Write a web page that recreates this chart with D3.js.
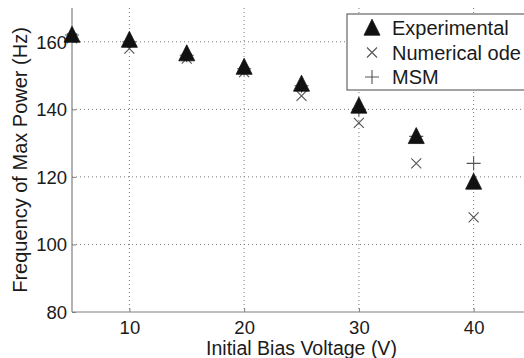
<!DOCTYPE html>
<html>
<head>
<meta charset="utf-8">
<script src="https://cdn.jsdelivr.net/npm/d3@7/dist/d3.min.js"></script>
<style>
  html, body { margin: 0; padding: 0; background: #fff; }
  svg { display: block; font-family: "Liberation Sans", Arial, Helvetica, sans-serif; }
</style>
</head>
<body>
<svg id="chart" width="524" height="358"></svg>
<script>
// Bias voltage sweep and the frequency at which power peaks
const voltage = [5, 10, 15, 20, 25, 30, 35, 40];
const experimental = [162, 160.5, 156.5, 152.5, 147.5, 141, 132, 118.5];
const numericalOde = [161, 158, 155, 151, 144, 136, 124, 108];
const msm = [162, 160, 156, 152, 147, 140, 132, 124];

const xTicks = [10, 20, 30, 40];
const yTicks = [80, 100, 120, 140, 160];
const legendLabels = ["Experimental", "Numerical ode", "MSM"];

const svg = d3.select("#chart");
const plotLeft = 72, plotRight = 531, plotTop = 8, plotBottom = 312;

const x = d3.scaleLinear().domain([5, 45]).range([plotLeft, plotRight]);
const y = d3.scaleLinear().domain([80, 170]).range([plotBottom, plotTop]);

const gridColor = "#7a7a7a";
const axisColor = "#808080";

// dotted grid
const grid = svg.append("g");
grid.selectAll("line.v").data(xTicks).join("line")
  .attr("x1", d => x(d)).attr("x2", d => x(d))
  .attr("y1", plotTop).attr("y2", plotBottom)
  .attr("stroke", gridColor).attr("stroke-width", 1)
  .attr("stroke-dasharray", "1,3");
grid.selectAll("line.h").data(yTicks.filter(d => d > 80)).join("line")
  .attr("x1", plotLeft).attr("x2", plotRight)
  .attr("y1", d => y(d)).attr("y2", d => y(d))
  .attr("stroke", gridColor).attr("stroke-width", 1)
  .attr("stroke-dasharray", "1,3");

// axes
const xAxis = svg.append("g").attr("transform", `translate(0,${plotBottom})`)
  .call(d3.axisBottom(x).tickValues(xTicks).tickSize(-4).tickPadding(9));
const yAxis = svg.append("g").attr("transform", `translate(${plotLeft},0)`)
  .call(d3.axisLeft(y).tickValues(yTicks).tickSize(-4).tickPadding(5));

[xAxis, yAxis].forEach(g => {
  g.select(".domain").attr("stroke", axisColor).attr("stroke-width", 1.2);
  g.selectAll(".tick line").attr("stroke", axisColor);
  g.selectAll(".tick text").attr("fill", "#1a1a1a")
    .style("font-size", "18.5px").style("font-family", "'Liberation Sans', Arial, sans-serif");
});
yAxis.select(".domain").attr("d", `M0,${plotTop}V${plotBottom}`);
xAxis.select(".domain").attr("d", `M${plotLeft},0H${plotRight}`);
xAxis.selectAll(".tick text").attr("dy", "0.71em");
yAxis.selectAll(".tick text").attr("dy", "0.35em");

// axis titles
svg.append("text")
  .attr("x", (plotLeft + plotRight) / 2).attr("y", 355)
  .attr("text-anchor", "middle").attr("fill", "#1a1a1a")
  .style("font-size", "19.5px").text("Initial Bias Voltage (V)");
svg.append("text")
  .attr("transform", `translate(27,${(plotTop + plotBottom) / 2}) rotate(-90)`)
  .attr("text-anchor", "middle").attr("fill", "#1a1a1a")
  .style("font-size", "20px").text("Frequency of Max Power (Hz)");

// marker shapes
const triPath = (cx, cy, s) => `M${cx},${cy - s * 0.55}L${cx + s / 2},${cy + s * 0.45}L${cx - s / 2},${cy + s * 0.45}Z`;
const crossPath = (cx, cy, s) => `M${cx - s},${cy - s}L${cx + s},${cy + s}M${cx - s},${cy + s}L${cx + s},${cy - s}`;
const plusPath = (cx, cy, s) => `M${cx - s},${cy}H${cx + s}M${cx},${cy - s}V${cy + s}`;

const marks = svg.append("g");
marks.selectAll("path.msm").data(voltage).join("path")
  .attr("d", (d, i) => plusPath(x(d), y(msm[i]), 7))
  .attr("stroke", "#555").attr("stroke-width", 1.1).attr("fill", "none");
marks.selectAll("path.ode").data(voltage).join("path")
  .attr("d", (d, i) => crossPath(x(d), y(numericalOde[i]), 5))
  .attr("stroke", "#555").attr("stroke-width", 1.1).attr("fill", "none");
marks.selectAll("path.exp").data(voltage).join("path")
  .attr("d", (d, i) => triPath(x(d), y(experimental[i]), 16))
  .attr("fill", "#111").attr("stroke", "#111").attr("stroke-width", 0.8);

// legend
const lg = svg.append("g");
lg.append("rect").attr("x", 347).attr("y", 14).attr("width", 180).attr("height", 76)
  .attr("fill", "#fff").attr("stroke", "#666").attr("stroke-width", 1.2);
const rowY = [28, 52.5, 77];
lg.append("path").attr("d", triPath(372, rowY[0], 16)).attr("fill", "#111").attr("stroke", "#111").attr("stroke-width", 0.8);
lg.append("path").attr("d", crossPath(372, rowY[1], 5)).attr("stroke", "#555").attr("stroke-width", 1.1).attr("fill", "none");
lg.append("path").attr("d", plusPath(372, rowY[2], 7)).attr("stroke", "#555").attr("stroke-width", 1.1).attr("fill", "none");
lg.selectAll("text").data(legendLabels).join("text")
  .attr("x", 392).attr("y", (d, i) => rowY[i]).attr("dy", "0.36em")
  .attr("fill", "#1a1a1a").style("font-size", "20px").text(d => d);
</script>
</body>
</html>
